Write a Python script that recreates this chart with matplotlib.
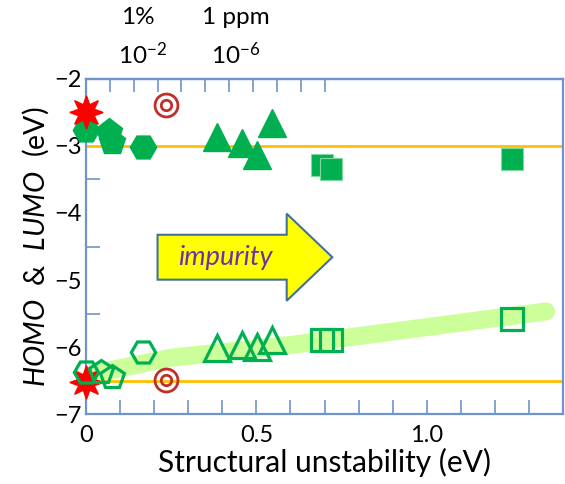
import numpy as np
import matplotlib
matplotlib.use("Agg")
import matplotlib.pyplot as plt
import matplotlib.patches as mpatches

plt.rcParams['font.family'] = ['Lato', 'DejaVu Sans']
plt.rcParams['mathtext.fontset'] = 'custom'
plt.rcParams['mathtext.rm'] = 'Lato'
plt.rcParams['mathtext.it'] = 'Lato:italic'

# ── data ─────────────────────────────────────────────────────────────
star_x = [0.0]
star_lumo = [-2.50]
star_homo = [-6.52]

hex_x = [0.0, 0.168]
hex_lumo = [-2.76, -3.01]
hex_homo = [-6.37, -6.07]

pent_lumo_x = [0.068, 0.077]
pent_lumo = [-2.79, -2.94]
pent_homo_x = [0.045, 0.075]
pent_homo = [-6.37, -6.45]

circ_x = [0.236]
circ_lumo = [-2.39]
circ_homo = [-6.49]

tri_x = [0.385, 0.458, 0.503, 0.546]
tri_lumo = [-2.87, -2.96, -3.13, -2.66]
tri_homo = [-6.01, -5.97, -6.00, -5.90]

sq_x = [0.692, 0.718, 1.250]
sq_lumo = [-3.28, -3.34, -3.19]
sq_homo = [-5.90, -5.90, -5.58]

band_x = [0.02, 0.25, 0.60, 1.35]
band_y = [-6.40, -6.16, -5.97, -5.47]

ref_levels = [-3.0, -6.5]

x_ticks = [round(0.1 * i, 1) for i in range(14)]
x_tick_labels = ['0', '', '', '', '', '0.5', '', '', '', '', '1.0', '', '', '']
top_ticks = [round(0.07 * k, 2) for k in range(1, 11)]

GREEN = '#00b050'
RED = '#c0302a'
AXC = '#6f93cc'

# ── figure ───────────────────────────────────────────────────────────
fig = plt.figure(figsize=(5.65, 4.84), dpi=100)
ax = fig.add_axes([0.1522, 0.1446, 0.8443, 0.6922])
ax.set_xlim(0, 1.4)
ax.set_ylim(-7, -2)

ax.plot(band_x, band_y, color='#ccff99', lw=13, solid_capstyle='round', zorder=1)
for lv in ref_levels:
    ax.axhline(lv, color='#ffc000', lw=2, zorder=2)

# LUMO (filled)
kw = dict(ls='none', clip_on=False, zorder=4)
ax.plot(hex_x, hex_lumo, 'H', ms=19, color=GREEN, mec=GREEN, **kw)
ax.plot(pent_lumo_x, pent_lumo, 'p', ms=19.5, color=GREEN, mec=GREEN, **kw)
ax.plot(tri_x, tri_lumo, '^', ms=20, color=GREEN, mec=GREEN, **kw)
ax.plot(sq_x, sq_lumo, 's', ms=16.5, color=GREEN, mec='#7fd8a0', mew=0.8, **kw)
ax.plot(star_x, star_lumo, marker=(8, 1, 0), ms=24, color='#ff0000', mec='#ff0000', ls='none', clip_on=False, zorder=5)

# HOMO (open)
ax.plot(star_x, star_homo, marker=(8, 1, 0), ms=24, color='#ff0000', mec='#ff0000', ls='none', clip_on=False, zorder=3)
okw = dict(ls='none', clip_on=False, zorder=4, mfc='none', mec=GREEN, mew=2.3)
ax.plot(hex_x, hex_homo, 'H', ms=17.5, **okw)
ax.plot(pent_homo_x, pent_homo, 'p', ms=17.5, **okw)
ax.plot(tri_x, tri_homo, '^', ms=19, **okw)
ax.plot(sq_x, sq_homo, 's', ms=15.5, **okw)

# double circles
for yv in (circ_lumo, circ_homo):
    ax.plot(circ_x, yv, 'o', ms=16.5, mfc='none', mec=RED, mew=2, ls='none', zorder=4)
    ax.plot(circ_x, yv, 'o', ms=7.5, mfc='none', mec=RED, mew=2, ls='none', zorder=4)

# impurity arrow
arr = mpatches.FancyArrow(0.21, -4.66, 0.513, 0, width=0.67, head_width=1.3,
                          head_length=0.134, length_includes_head=True,
                          facecolor='#ffff00', edgecolor='#41719c', lw=1.5, zorder=3)
ax.add_patch(arr)
ax.text(0.41, -4.66, 'impurity', style='italic', color='#7030a0', fontsize=19.5,
        ha='center', va='center', zorder=4)

# axes styling
for sp in ax.spines.values():
    sp.set_color(AXC)
    sp.set_linewidth(1.6)

ax.set_xticks(x_ticks)
ax.set_xticklabels(x_tick_labels)
ax.set_yticks([-7, -6, -5, -4, -3, -2])
ax.set_yticks([-6.5, -5.5, -4.5, -3.5, -2.5], minor=True)
ax.tick_params(axis='x', direction='in', length=10, width=1.2, color=AXC,
               labelsize=17, pad=8)
ax.tick_params(axis='y', which='major', length=0, labelsize=17, pad=3)
ax.tick_params(axis='y', which='minor', direction='in', length=10, width=1.2, color=AXC)

sec = ax.secondary_xaxis('top')
sec.set_xticks(top_ticks)
sec.set_xticklabels([])
sec.tick_params(direction='in', length=9, width=1.2, color=AXC)
sec.spines['top'].set_color(AXC)
sec.spines['top'].set_linewidth(1.6)

ax.set_xlabel('Structural unstability (eV)', fontsize=21.5, labelpad=1)
ax.set_ylabel(r'$\mathit{HOMO}$  &  $\mathit{LUMO}$  (eV)', fontsize=20.5, labelpad=2)

fig.text(138 / 565, 1 - 17 / 484, '1%', fontsize=17.5, ha='center', va='center')
fig.text(236 / 565, 1 - 17 / 484, '1 ppm', fontsize=17.5, ha='center', va='center')
fig.text(143 / 565, 1 - 55 / 484, r'10$^{-2}$', fontsize=17.5, ha='center', va='center')
fig.text(236 / 565, 1 - 55 / 484, r'10$^{-6}$', fontsize=17.5, ha='center', va='center')

fig.savefig('out.png', dpi=100)
